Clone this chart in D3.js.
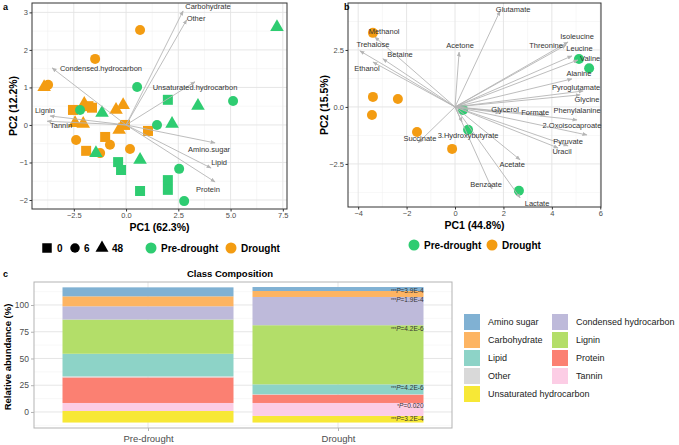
<!DOCTYPE html>
<html><head><meta charset="utf-8">
<script src="https://cdn.jsdelivr.net/npm/d3@7"></script>
<style>body{margin:0;background:#fff}svg{font-family:"Liberation Sans",Arial,sans-serif}</style>
</head><body><svg id="c" width="679" height="445"></svg>
<script>
// ---------- Panel a: FT-ICR-MS PCA ----------
const aPC1 = [0.67,-1.48,-3.73,-3.92,-2.54,-1.63,-2.0,-1.8,-0.48,-0.14,-2.44,-2.05,-0.33,-0.05,1.05,-1.0,-2.39,-0.77,-1.91,-1.24,0.19,
              7.22,0.53,-2.2,-1.15,2.0,3.44,5.12,1.48,2.2,-1.44,0.67,-0.38,-0.24,0.67,2.0,2.0,2.54,2.78];
const aPC2 = [2.53,1.76,1.07,1.01,0.40,0.46,0.56,0.50,0.40,0.53,0.05,0.03,-0.13,0.0,-0.16,-0.32,-0.40,-0.53,-0.69,-0.75,-0.64,
              2.61,1.01,0.40,0.32,0.67,0.51,0.64,0.0,0.03,-0.75,-0.93,-0.99,-1.2,-1.76,-1.47,-1.73,-1.17,-2.03];
const aTime = ["6","6","6","48","0","0","48","0","48","48","48","48","48","0","0","0","6","6","0","6","6",
               "48","6","6","48","0","48","6","6","48","48","48","0","0","0","0","0","6","6"];
const aGroup = ["Drought","Drought","Drought","Drought","Drought","Drought","Drought","Drought","Drought","Drought","Drought","Drought","Drought","Drought","Drought","Drought","Drought","Drought","Drought","Drought","Drought",
                "Pre-drought","Pre-drought","Pre-drought","Pre-drought","Pre-drought","Pre-drought","Pre-drought","Pre-drought","Pre-drought","Pre-drought","Pre-drought","Pre-drought","Pre-drought","Pre-drought","Pre-drought","Pre-drought","Pre-drought","Pre-drought"];
const aVars = ["Carbohydrate","Other","Unsaturated.hydrocarbon","Condensed.hydrocarbon","Lignin","Tannin","Amino.sugar","Lipid","Protein"];
const aLoadX = [2.73,2.9,3.3,-3.54,-3.64,-3.78,4.26,4.07,4.26];
const aLoadY = [3.04,2.8,1.15,1.52,0.24,0.10,-0.48,-1.15,-1.52];
const aLabX = [3.92,3.35,3.3,-1.2,-3.88,-3.11,3.97,4.45,3.92];
const aLabY = [3.15,2.83,1.01,1.52,0.40,0.0,-0.64,-1.01,-1.71];
const aXTicks = [-2.5,0,2.5,5,7.5];
const aYTicks = [-2,-1,0,1,2,3];

// ---------- Panel b: NMR metabolite PCA ----------
const bPC1 = [-3.39,-3.39,-2.36,-3.43,-1.57,-0.12, 5.12,5.54,0.33,0.54,2.64];
const bPC2 = [3.25,0.44,0.35,-0.35,-1.1,-1.84, 2.1,1.7,-0.13,-1.0,-3.68];
const bGroup = ["Drought","Drought","Drought","Drought","Drought","Drought","Pre-drought","Pre-drought","Pre-drought","Pre-drought","Pre-drought"];
const bVars = ["Glutamate","Acetone","Methanol","Trehalose","Betaine","Ethanol","Isoleucine","Threonine","Leucine","Valine","Alanine",
               "Pyroglutamate","Glycine","Phenylalanine","Formate","Glycerol","2.Oxoisocaproate","Pyruvate","Uracil","Acetate","Benzoate","Lactate","Succinate","3.Hydroxybutyrate"];
const bLoadX = [1.86,0.17,-3.31,-3.93,-2.98,-3.39,4.67,4.59,4.83,5.08,4.83,5.29,5.17,5.04,3.72,1.86,5.45,4.67,4.26,2.69,1.53,2.69,-1.53,0.29];
const bLoadY = [4.21,2.41,3.07,2.46,2.11,1.97,2.85,2.72,2.24,2.06,1.23,0.70,0.53,-0.57,-0.35,-0.26,-1.23,-1.71,-1.8,-2.32,-3.6,-3.99,-1.58,-0.66];
const bLabX = [2.40,0.21,-2.93,-3.39,-2.27,-3.64,5.04,3.76,5.14,5.58,5.12,5.0,5.45,5.04,3.31,2.07,4.83,4.67,4.42,2.36,1.28,3.39,-1.45,0.54];
const bLabY = [4.30,2.72,3.33,2.76,2.32,1.67,3.11,2.68,2.56,2.12,1.49,0.88,0.35,-0.13,-0.22,-0.09,-0.83,-1.49,-1.97,-2.5,-3.38,-4.21,-1.36,-1.23];
const bXTicks = [-4,-2,0,2,4,6];
const bYTicks = [-2.5,0,2.5];

// ---------- Panel c: class composition ----------
const cConditions = ["Pre-drought","Drought"];
const cClasses = ["Unsaturated hydrocarbon","Tannin","Protein","Other","Lipid","Lignin","Condensed hydrocarbon","Carbohydrate","Amino sugar"];
const cPre = [10.8,7.5,23.9,1.0,21.1,32.0,12.4,9.3,8.4];
const cDrought = [6.2,12.1,7.8,0.3,9.3,55.3,26.4,5.6,3.7];
const cBase = -9.9;
const cColors = ["#f7e836","#fccde5","#fb8072","#d9d9d9","#8dd3c7","#b3de69","#bebada","#fdb462","#80b1d3"];
const cYTicks = [0,25,50,75,100];
const cPClasses = ["Amino sugar","Condensed hydrocarbon","Lignin","Lipid","Tannin","Unsaturated hydrocarbon"];
const cPStars = ["***","***","***","***","*","***"];
const cPText = ["=3.9E-4","=1.9E-4","=4.2E-6","=4.2E-6","=0.020","=3.2E-4"];
const cLegendOrder = ["Amino sugar","Carbohydrate","Lipid","Other","Unsaturated hydrocarbon","Condensed hydrocarbon","Lignin","Protein","Tannin"];

const groupColor = {"Pre-drought":"#2ecc71","Drought":"#f39c12"};
const svg = d3.select("#c");
const tickCol = "#4d4d4d";
const labCol = "#333333";

function shapePath(t, s){
  if(t==="0") return d3.symbol(d3.symbolSquare, s*s)();
  if(t==="6") return d3.symbol(d3.symbolCircle, Math.PI*(s/2)*(s/2))();
  return d3.symbol(d3.symbolTriangle, s*s*0.6)();
}

function drawFrame(g, x, y, xt, yt, xminor, yminor){
  const [x0,x1] = x.range(), [y1,y0] = y.range();
  g.selectAll(".mx").data(xminor).join("line").attr("class","mx").attr("x1",d=>x(d)).attr("x2",d=>x(d)).attr("y1",y0).attr("y2",y1).attr("stroke","#efefef").attr("stroke-width",0.5);
  g.selectAll(".my").data(yminor).join("line").attr("class","my").attr("y1",d=>y(d)).attr("y2",d=>y(d)).attr("x1",x0).attr("x2",x1).attr("stroke","#efefef").attr("stroke-width",0.5);
  g.selectAll(".gx").data(xt).join("line").attr("class","gx").attr("x1",d=>x(d)).attr("x2",d=>x(d)).attr("y1",y0).attr("y2",y1).attr("stroke","#e3e3e3").attr("stroke-width",0.9);
  g.selectAll(".gy").data(yt).join("line").attr("class","gy").attr("y1",d=>y(d)).attr("y2",d=>y(d)).attr("x1",x0).attr("x2",x1).attr("stroke","#e3e3e3").attr("stroke-width",0.9);
}
function drawAxes(g, x, y, xt, yt, fmtX, fmtY){
  const [x0,x1] = x.range(), [y1,y0] = y.range();
  g.append("rect").attr("x",x0).attr("y",y0).attr("width",x1-x0).attr("height",y1-y0).attr("fill","none").attr("stroke","#333").attr("stroke-width",1);
  const xa = g.append("g").attr("transform",`translate(0,${y1})`).call(d3.axisBottom(x).tickValues(xt).tickFormat(fmtX).tickSize(2.5).tickPadding(1.5));
  const ya = g.append("g").attr("transform",`translate(${x0},0)`).call(d3.axisLeft(y).tickValues(yt).tickFormat(fmtY).tickSize(2.5).tickPadding(1.5));
  [xa,ya].forEach(a=>{a.select(".domain").remove();a.selectAll("line").attr("stroke","#333");a.selectAll("text").attr("fill",tickCol).attr("font-size",7.5).attr("font-family","Liberation Sans, Arial, sans-serif");});
}
function arrowMarker(id){
  svg.append("defs").append("marker").attr("id",id).attr("viewBox","0 0 10 10").attr("refX",9).attr("refY",5)
    .attr("markerWidth",5).attr("markerHeight",5).attr("orient","auto").attr("markerUnits","userSpaceOnUse")
    .append("path").attr("d","M0,1 L10,5 L0,9 Z").attr("fill","#b5b5b5");
}
arrowMarker("arr");

// ===== Panel a =====
{
  const x = d3.scaleLinear().domain([-4.5,7.7]).range([32,287]);
  const y = d3.scaleLinear().domain([-2.24,3.25]).range([209,3]);
  const g = svg.append("g");
  drawFrame(g,x,y,aXTicks,aYTicks,[-3.75,-1.25,1.25,3.75,6.25],[-1.5,-0.5,0.5,1.5,2.5]);
  const pts = aPC1.map((v,i)=>({x:v,y:aPC2[i],t:aTime[i],gr:aGroup[i]}));
  g.selectAll(".pt").data(pts).join("path").attr("class","pt")
    .attr("d",d=>shapePath(d.t, d.t==="48"?11.5:10))
    .attr("transform",d=>`translate(${x(d.x)},${y(d.y)})`)
    .attr("fill",d=>groupColor[d.gr]);
  g.selectAll(".ar").data(aVars).join("line").attr("class","ar")
    .attr("x1",x(0)).attr("y1",y(0)).attr("x2",(d,i)=>x(aLoadX[i])).attr("y2",(d,i)=>y(aLoadY[i]))
    .attr("stroke","#b5b5b5").attr("stroke-width",0.9).attr("marker-end","url(#arr)");
  g.selectAll(".al").data(aVars).join("text").attr("class","al")
    .attr("x",(d,i)=>x(aLabX[i])).attr("y",(d,i)=>y(aLabY[i])).attr("dy","0.35em").attr("text-anchor","middle")
    .attr("font-size",7.5).style("fill",labCol).text(d=>d);
  drawAxes(g,x,y,aXTicks,aYTicks,d3.format(".1f"),d3.format("d"));
  svg.append("text").attr("x",159.5).attr("y",230.5).attr("text-anchor","middle").attr("font-weight","bold").attr("font-size",10.5).text("PC1 (62.3%)");
  svg.append("text").attr("transform","translate(17,106) rotate(-90)").attr("text-anchor","middle").attr("font-weight","bold").attr("font-size",10.5).text("PC2 (12.2%)");
  svg.append("text").attr("x",3).attr("y",10).attr("font-weight","bold").attr("font-size",9).text("a");
  // legend
  const ly = 248;
  const lg = svg.append("g");
  const tItems = [{t:"0",x:47,tx:57},{t:"6",x:75,tx:84},{t:"48",x:102,tx:112}];
  tItems.forEach(o=>{
    lg.append("path").attr("d",shapePath(o.t,o.t==="48"?11:9.5)).attr("transform",`translate(${o.x},${ly})`).attr("fill","#000");
    lg.append("text").attr("x",o.tx).attr("y",ly).attr("dy","0.35em").attr("font-weight","bold").attr("font-size",10).text(o.t);
  });
  [{gr:"Pre-drought",x:151,tx:161},{gr:"Drought",x:231,tx:241}].forEach(o=>{
    lg.append("circle").attr("cx",o.x).attr("cy",ly).attr("r",5.5).attr("fill",groupColor[o.gr]);
    lg.append("text").attr("x",o.tx).attr("y",ly).attr("dy","0.35em").attr("font-weight","bold").attr("font-size",10).text(o.gr);
  });
}

// ===== Panel b =====
{
  const x = d3.scaleLinear().domain([-4.42,6.03]).range([348,601]);
  const y = d3.scaleLinear().domain([-4.39,4.56]).range([207,3]);
  const g = svg.append("g");
  drawFrame(g,x,y,bXTicks,bYTicks,[-3,-1,1,3,5],[-3.75,-1.25,1.25,3.75]);
  const pts = bPC1.map((v,i)=>({x:v,y:bPC2[i],gr:bGroup[i]}));
  g.selectAll(".pt").data(pts).join("circle").attr("class","pt").attr("cx",d=>x(d.x)).attr("cy",d=>y(d.y)).attr("r",5).attr("fill",d=>groupColor[d.gr]);
  g.selectAll(".ar").data(bVars).join("line").attr("class","ar")
    .attr("x1",x(0)).attr("y1",y(0)).attr("x2",(d,i)=>x(bLoadX[i])).attr("y2",(d,i)=>y(bLoadY[i]))
    .attr("stroke","#b5b5b5").attr("stroke-width",0.9).attr("marker-end","url(#arr)");
  g.selectAll(".al").data(bVars).join("text").attr("class","al")
    .attr("x",(d,i)=>x(bLabX[i])).attr("y",(d,i)=>y(bLabY[i])).attr("dy","0.35em").attr("text-anchor","middle")
    .attr("font-size",7.5).style("fill",labCol).text(d=>d);
  drawAxes(g,x,y,bXTicks,bYTicks,d3.format("d"),d3.format(".1f"));
  svg.append("text").attr("x",474.5).attr("y",228.5).attr("text-anchor","middle").attr("font-weight","bold").attr("font-size",10.5).text("PC1 (44.8%)");
  svg.append("text").attr("transform","translate(328,105) rotate(-90)").attr("text-anchor","middle").attr("font-weight","bold").attr("font-size",10.5).text("PC2 (15.5%)");
  svg.append("text").attr("x",344).attr("y",10).attr("font-weight","bold").attr("font-size",9).text("b");
  const ly = 245;
  [{gr:"Pre-drought",x:414,tx:424},{gr:"Drought",x:492,tx:502}].forEach(o=>{
    svg.append("circle").attr("cx",o.x).attr("cy",ly).attr("r",5.5).attr("fill",groupColor[o.gr]);
    svg.append("text").attr("x",o.tx).attr("y",ly).attr("dy","0.35em").attr("font-weight","bold").attr("font-size",10).text(o.gr);
  });
}

// ===== Panel c =====
{
  const x = d3.scaleLinear().domain([0.4,2.6]).range([34,452]);
  const y = d3.scaleLinear().domain([-15,121.5]).range([428,282]);
  const g = svg.append("g");
  g.selectAll(".my").data([-12.5,12.5,37.5,62.5,87.5,112.5]).join("line").attr("class","my").attr("x1",34).attr("x2",452).attr("y1",d=>y(d)).attr("y2",d=>y(d)).attr("stroke","#f0f0f0").attr("stroke-width",0.5);
  g.selectAll(".gy").data(cYTicks).join("line").attr("class","gy").attr("x1",34).attr("x2",452).attr("y1",d=>y(d)).attr("y2",d=>y(d)).attr("stroke","#e2e2e2").attr("stroke-width",0.9);
  g.selectAll(".gx").data([1,2]).join("line").attr("class","gx").attr("x1",d=>x(d)).attr("x2",d=>x(d)).attr("y1",282).attr("y2",428).attr("stroke","#e2e2e2").attr("stroke-width",0.9);
  const series = [cPre,cDrought];
  series.forEach((vals,ci)=>{
    let cum = cBase;
    vals.forEach((v,k)=>{
      g.append("rect").attr("x",x(ci+1-0.45)).attr("width",x(ci+1+0.45)-x(ci+1-0.45))
        .attr("y",y(cum+v)).attr("height",y(cum)-y(cum+v)).attr("fill",cColors[k]);
      cum += v;
    });
  });
  // p-value labels on the Drought bar
  const cumD = []; let acc = cBase;
  cDrought.forEach(v=>{cumD.push([acc,acc+v]);acc+=v;});
  cPClasses.forEach((cls,i)=>{
    const k = cClasses.indexOf(cls);
    const top = cumD[k][1];
    const t = g.append("text").attr("x",x(2.45)).attr("y",y(top)).attr("dy","0.85em").attr("text-anchor","end").attr("font-size",6.5).style("fill",labCol);
    t.append("tspan").attr("font-size",4.5).text(cPStars[i]);
    t.append("tspan").attr("font-style","italic").text("P");
    t.append("tspan").text(cPText[i]);
  });
  g.append("rect").attr("x",34).attr("y",282).attr("width",418).attr("height",146).attr("fill","none").attr("stroke","#b3b3b3").attr("stroke-width",1);
  const ya = g.append("g").attr("transform","translate(34,0)").call(d3.axisLeft(y).tickValues(cYTicks).tickSize(3).tickPadding(2));
  const xa = g.append("g").attr("transform","translate(0,428)").call(d3.axisBottom(x).tickValues([1,2]).tickFormat(d=>cConditions[d-1]).tickSize(3).tickPadding(4));
  [xa,ya].forEach(a=>{a.select(".domain").remove();a.selectAll("line").attr("stroke","#b3b3b3");a.selectAll("text").attr("fill",tickCol).attr("font-family","Liberation Sans, Arial, sans-serif");});
  ya.selectAll("text").attr("font-size",8.5);
  xa.selectAll("text").attr("font-size",9.5);
  svg.append("text").attr("transform","translate(11,357) rotate(-90)").attr("text-anchor","middle").attr("font-weight","bold").attr("font-size",9.5).text("Relative abundance (%)");
  svg.append("text").attr("x",230).attr("y",277).attr("text-anchor","middle").attr("font-weight","bold").attr("font-size",9.5).text("Class Composition");
  svg.append("text").attr("x",3).attr("y",277).attr("font-weight","bold").attr("font-size",9).text("c");
  // legend
  const colMap = {}; cClasses.forEach((c,k)=>colMap[c]=cColors[k]);
  cLegendOrder.forEach((c,i)=>{
    const col = i<5?0:1, row = i<5?i:i-5;
    const sx = col===0?464:552, sy = 314+row*18;
    svg.append("rect").attr("x",sx).attr("y",sy).attr("width",16).attr("height",16).attr("fill",colMap[c]);
    svg.append("text").attr("x",sx+24).attr("y",sy+8).attr("dy","0.35em").attr("font-size",9).style("fill","#222").text(c);
  });
}
</script></body></html>
